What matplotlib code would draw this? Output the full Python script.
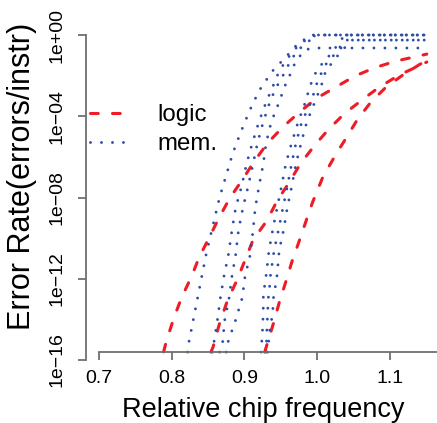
import numpy as np
import matplotlib
matplotlib.use("Agg")
import matplotlib.pyplot as plt

plt.rcParams['font.family'] = ['Liberation Sans', 'DejaVu Sans']
plt.rcParams['lines.scale_dashes'] = False

# ---------------- data (x: relative chip frequency, y: log10 error rate) -------------
logic_x = [
    [0.789, 0.792, 0.803, 0.814, 0.827, 0.838, 0.852, 0.865, 0.880, 0.897, 0.914,
     0.932, 0.953, 0.976, 1.000, 1.026, 1.052, 1.080, 1.109, 1.140, 1.151],
    [0.854, 0.857, 0.866, 0.877, 0.890, 0.901, 0.912, 0.931, 0.945, 0.962, 0.977,
     0.997, 1.015, 1.037, 1.060, 1.085, 1.114, 1.139, 1.151],
    [0.928, 0.940, 0.948, 0.957, 0.966, 0.976, 0.986, 0.994, 1.008, 1.027, 1.041,
     1.055, 1.073, 1.095, 1.118, 1.142, 1.151],
]
logic_y = [
    [-15.60, -15.17, -13.93, -12.90, -11.92, -10.93, -9.95, -9.01, -8.03, -7.14, -6.20,
     -5.32, -4.53, -3.79, -3.10, -2.56, -2.02, -1.60, -1.28, -1.03, -0.94],
    [-15.61, -15.36, -14.18, -13.05, -12.06, -11.08, -10.09, -9.14, -8.17, -7.24, -6.34,
     -5.42, -4.68, -3.89, -3.25, -2.58, -1.95, -1.54, -1.33],
    [-15.61, -14.20, -13.17, -12.15, -11.10, -10.09, -9.04, -8.22, -6.99, -5.81, -5.02,
     -4.19, -3.35, -2.56, -1.97, -1.43, -1.28],
]

# memory curves: one single curve on the left, then two bands of three curves
mem1_x = [0.822, 0.824, 0.830, 0.836, 0.842, 0.848, 0.855, 0.866, 0.875, 0.884, 0.895,
          0.907, 0.920, 0.938, 0.959, 0.976, 0.990, 1.001, 1.151]
mem1_y = [-15.61, -15.07, -13.98, -12.89, -11.78, -10.70, -9.64, -7.99, -6.91, -5.83, -4.79,
          -3.74, -2.76, -1.80, -1.01, -0.33, -0.11, 0.0, 0.0]

band2_y = [-15.61, -15.17, -14.03, -12.95, -11.87, -10.83, -9.60, -8.52, -7.48, -6.35,
           -5.32, -4.28, -3.20, -2.66, -2.17, -1.72, -1.33, -0.74, -0.34, 0.0, 0.0]
band2_xl = [0.856, 0.858, 0.863, 0.867, 0.872, 0.878, 0.883, 0.888, 0.896, 0.903,
            0.911, 0.920, 0.931, 0.938, 0.943, 0.949, 0.956, 0.968, 0.981, 0.993, 1.151]
band2_xm = [0.866, 0.870, 0.873, 0.879, 0.883, 0.888, 0.892, 0.898, 0.905, 0.912,
            0.918, 0.926, 0.936, 0.943, 0.950, 0.958, 0.962, 0.974, 0.987, 1.001, 1.151]
band2r_y = [-15.61, -15.17, -14.03, -12.95, -11.87, -10.83, -9.60, -8.52, -7.48, -6.35,
            -5.32, -4.28, -3.20, -2.66, -2.17, -1.72, -1.33, -0.74, -0.64, -0.64]
band2_xr = [0.875, 0.877, 0.888, 0.897, 0.901, 0.908, 0.912, 0.915, 0.920, 0.926,
            0.930, 0.937, 0.949, 0.954, 0.960, 0.966, 0.970, 0.983, 0.994, 1.151]

band3_y = [-15.61, -14.52, -13.69, -12.95, -12.31, -11.82, -10.59, -9.60, -8.52, -7.48,
           -6.35, -5.32, -4.28, -3.20, -2.66, -2.17, -1.72, -1.33, -0.89]
band3_xl = [0.923, 0.925, 0.926, 0.926, 0.928, 0.930, 0.934, 0.939, 0.945, 0.951,
            0.957, 0.965, 0.974, 0.985, 0.989, 0.994, 1.000, 1.009, 1.020]
band3_xm = [0.930, 0.931, 0.932, 0.933, 0.935, 0.936, 0.941, 0.947, 0.953, 0.959,
            0.965, 0.971, 0.979, 0.993, 0.997, 1.002, 1.008, 1.014, 1.026]
band3_xr = [0.932, 0.935, 0.939, 0.940, 0.943, 0.945, 0.948, 0.954, 0.959, 0.965,
            0.971, 0.978, 0.986, 0.998, 1.004, 1.009, 1.012, 1.022, 1.031]
band3_top_x = [1.038, 1.038, 1.048]
band3_top_y = [0.0, -0.25, -0.25]
x_end = 1.151

x_ticks = [0.7, 0.8, 0.9, 1.0, 1.1]
x_tick_labels = ["0.7", "0.8", "0.9", "1.0", "1.1"]
y_ticks = [1e-16, 1e-12, 1e-08, 1e-04, 1e+00]
y_tick_labels = ["1e\u221216", "1e\u221212", "1e\u221208", "1e\u221204", "1e+00"]

RED = '#EE1C25'
BLUE = '#2E4EA6'

# ---------------- figure -------------
W, H = 437, 423
fig = plt.figure(figsize=(W / 100, H / 100), dpi=100)
ax_left, ax_right, ax_bottom, ax_top = 86, 437, 360, 24.85
ax = fig.add_axes([ax_left / W, (H - ax_bottom) / H,
                   (ax_right - ax_left) / W, (ax_bottom - ax_top) / H])
ax.set_yscale('log')
ax.set_xlim(0.6822, 1.165)
ax.set_ylim(1e-16, 10 ** 0.5)

for i, (xs, ys) in enumerate(zip(logic_x, logic_y)):
    ax.plot(xs, 10 ** np.array(ys), color=RED, lw=2.2,
            linestyle=(0, (5.6, 10.2)), dash_capstyle='round',
            label='logic' if i == 0 else None)

mem_lines = [(mem1_x, mem1_y), (band2_xl, band2_y), (band2_xm, band2_y),
             (band2_xr, band2r_y)]
for k, xs in enumerate([band3_xl, band3_xm, band3_xr]):
    mem_lines.append((list(xs) + [band3_top_x[k], x_end],
                      list(band3_y) + [band3_top_y[k], band3_top_y[k]]))

for i, (xs, ys) in enumerate(mem_lines):
    ax.plot(xs, 10 ** np.array(ys), color=BLUE, lw=2.1,
            linestyle=(0, (0.01, 7.9)), dash_capstyle='round',
            label='mem.' if i == 0 else None)

for s in ['top', 'right']:
    ax.spines[s].set_visible(False)
ax.spines['left'].set_bounds(1e-16, 1.0)
ax.spines['bottom'].set_position(('data', 10 ** -15.61))
ax.spines['bottom'].set_bounds(0.7, 1.165)
for s in ['left', 'bottom']:
    ax.spines[s].set_color('#6f6f6f')
    ax.spines[s].set_linewidth(1.3)

ax.set_xticks(x_ticks)
ax.set_xticklabels(x_tick_labels)
ax.set_yticks(y_ticks)
ax.set_yticklabels(y_tick_labels)
ax.yaxis.set_minor_locator(matplotlib.ticker.NullLocator())
ax.tick_params(axis='both', length=5.8, width=1.3, color='#6f6f6f',
               labelsize=14, labelcolor='black')
ax.tick_params(axis='x', pad=7)
ax.tick_params(axis='y', pad=9, labelrotation=90)
for lab in ax.get_yticklabels():
    lab.set_va('center')

ax.set_xlabel('Relative chip frequency', fontsize=19.5)
ax.xaxis.set_label_coords(0.504, -0.149)
ax.xaxis.label.set_va('center')
ax.set_ylabel('Error Rate(errors/instr)', fontsize=22)
ax.yaxis.set_label_coords(-0.182, 0.549)
ax.yaxis.label.set_va('center')
ax.yaxis.label.set_ha('center')

leg = ax.legend(loc='upper left', bbox_to_anchor=(90 / W, 1 - 104 / H),
                bbox_transform=fig.transFigure, frameon=False, fontsize=17.3,
                handlelength=1.4, handletextpad=1.42, labelspacing=0.3,
                borderpad=0, borderaxespad=0)

fig.savefig('out.png', dpi=100)
